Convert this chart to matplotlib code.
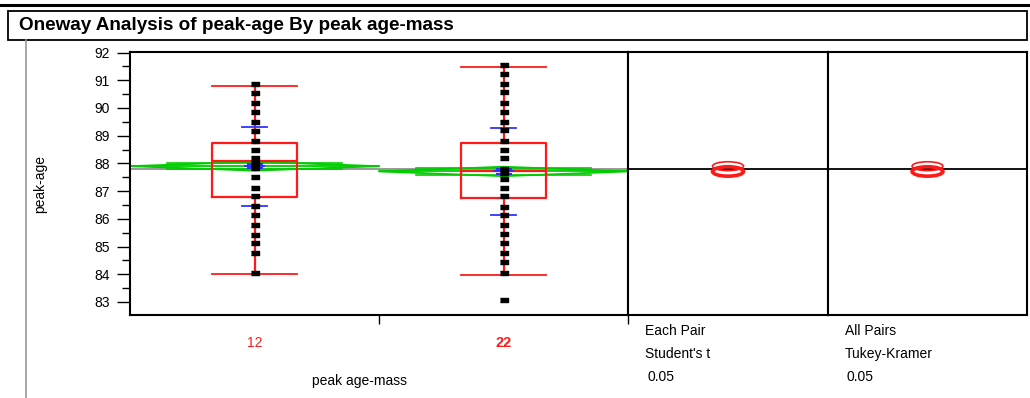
import matplotlib.pyplot as plt
import numpy as np
from matplotlib.patches import Ellipse, Rectangle, Polygon
from matplotlib.lines import Line2D

plt.rcParams['font.family'] = ['Liberation Sans', 'DejaVu Sans']

# peak-age values for each peak age-mass level
groups = ["12", "22"]
ages_12 = [90.87, 90.54, 90.18, 89.86, 89.49, 89.17, 88.81, 88.50, 88.20, 88.00,
           87.85, 87.50, 87.11, 86.82, 86.45, 86.13, 85.76, 85.43, 85.13, 84.75, 84.06]
ages_22 = [91.55, 91.23, 90.87, 90.56, 90.19, 89.87, 89.50, 89.19, 88.81, 88.50,
           88.19, 87.81, 87.65, 87.44, 87.13, 86.82, 86.44, 86.14, 85.76, 85.44,
           85.13, 84.76, 84.45, 84.06, 83.07]

# quantile box summaries
q1 = [86.80, 86.74]
med = [88.10, 87.73]
q3 = [88.73, 88.73]
whislo = [84.00, 83.99]
whishi = [90.78, 91.48]

# means, std dev, std error, 95% CI half width
means = [87.90, 87.71]
sds = [1.43, 1.56]
ses = [0.08, 0.09]
ci = [0.16, 0.17]
grand_mean = 87.80

fig = plt.figure(figsize=(10.30, 3.98), dpi=100)
W, H = 1030, 398

def fr(x0, y0, x1, y1):
    # pixel box (top-left origin) -> figure fraction rect
    return [x0 / W, 1 - y1 / H, (x1 - x0) / W, (y1 - y0) / H]

# frame decorations of the report
deco = fig.add_axes([0, 0, 1, 1], zorder=-1)
deco.set_xlim(0, W)
deco.set_ylim(H, 0)
deco.axis('off')
deco.add_line(Line2D([0, W], [5.3, 5.3], color='black', lw=2.2))
deco.add_patch(Rectangle((7.5, 10.5), 1019, 29, fill=False, ec='black', lw=1.3))
deco.add_line(Line2D([25.5, 25.5], [40, H], color='#999999', lw=1.2))
deco.text(19, 26, "Oneway Analysis of peak-age By peak age-mass", fontsize=13.6,
          fontweight='bold', va='center', ha='left')
deco.text(40, 184, "peak-age", rotation=90, fontsize=10, va='center', ha='center')
deco.text(360, 381, "peak age-mass", fontsize=10, va='center', ha='center')

ylo, yhi = 82.53, 92.02
ax = fig.add_axes(fr(130, 52, 628, 315))
ax2 = fig.add_axes(fr(628, 52, 828, 315))
ax3 = fig.add_axes(fr(828, 52, 1027, 315))
for a in (ax, ax2, ax3):
    a.set_ylim(ylo, yhi)
ax.set_xlim(0, 2)

pos = [0.5, 1.5]
data = [ages_12, ages_22]

# mean diamonds with overlap marks
for i in range(2):
    x0, xc, x1 = i, i + 0.5, i + 1
    m, c = means[i], ci[i]
    ax.add_patch(Polygon([(x0, m), (xc, m + c), (x1, m), (xc, m - c)], closed=True,
                         fill=False, ec='#00CC00', lw=1.3, zorder=2))
    ax.plot([x0, x1], [m, m], color='#00CC00', lw=1.3, zorder=2)
    o = c / np.sqrt(2)
    for s in (1, -1):
        ax.plot([x0 + 0.15, x1 - 0.15], [m + s * o, m + s * o], color='#00CC00', lw=1.2, zorder=2)

ax.axhline(grand_mean, color='#888888', lw=1.2, zorder=1.5)

stats = [dict(med=med[i], q1=q1[i], q3=q3[i], whislo=whislo[i], whishi=whishi[i], fliers=[])
         for i in range(2)]
red = dict(color='#FF1A1A', lw=1.6)
ax.bxp(stats, positions=pos, widths=0.34, capwidths=0.34, showfliers=False,
       boxprops=red, medianprops=red, whiskerprops=red, capprops=dict(color='#FF1A1A', lw=1.3),
       manage_ticks=False, zorder=3)

# std dev lines and mean error bars
for i in range(2):
    for s in (1, -1):
        ax.plot([pos[i] - 0.05, pos[i] + 0.05], [means[i] + s * sds[i]] * 2, color='#3333FF', lw=1.3, zorder=4)
    ax.errorbar(pos[i], means[i], yerr=ses[i], color='#3333FF', lw=1.5, capsize=6, capthick=1.5, zorder=4)
    ax.plot([pos[i] - 0.04, pos[i] + 0.04], [means[i]] * 2, color='#3333FF', lw=1.5, zorder=4)

# individual points
dash = [(-1.5, -0.75), (1.5, -0.75), (1.5, 0.75), (-1.5, 0.75)]
for i in range(2):
    ax.plot([pos[i]] * len(data[i]), data[i], ls='none', marker=dash, ms=6, color='black', zorder=5)

# axis styling
ax.set_yticks(np.arange(83, 93, 1))
ax.set_yticks(np.arange(83.5, 92, 1), minor=True)
ax.tick_params(axis='y', which='major', length=9.5, width=1, pad=5, labelsize=10)
ax.tick_params(axis='y', which='minor', length=5.5, width=1)
ax.set_xticks([1, 2])
ax.set_xticklabels([])
ax.tick_params(axis='x', which='major', length=6.5, width=1, direction='out')

# level labels under each group, the selected level in bold
xform = ax.get_xaxis_transform()
for p, g, bold in zip(pos, groups, [False, True]):
    ax.text(p, -0.105, g, transform=xform, color='#FF1A1A', fontsize=10.5 if bold else 10,
            fontweight='bold' if bold else 'normal', ha='center', va='center')

for a in (ax, ax2, ax3):
    for sp in a.spines.values():
        sp.set_linewidth(1.5)

# comparison circles
for a, head in ((ax2, ["Each Pair", "Student's t", "0.05"]),
                (ax3, ["All Pairs", "Tukey-Kramer", "0.05"])):
    a.set_xlim(0, 1)
    a.set_xticks([])
    a.set_yticks([])
    a.axhline(grand_mean, color='black', lw=1.3, zorder=1)
    for i in range(2):
        a.add_patch(Ellipse((0.5, means[i]), 0.155, 2 * ci[i], fill=False,
                            ec='#FF1A1A', lw=1.2 if i == 0 else 2.6, zorder=3))
    a.text(0.085, -0.06, head[0], transform=a.transAxes, fontsize=10, va='center', ha='left')
    a.text(0.085, -0.148, head[1], transform=a.transAxes, fontsize=10, va='center', ha='left')
    a.text(0.095, -0.235, head[2], transform=a.transAxes, fontsize=10, va='center', ha='left')

fig.savefig("out.png", dpi=100)
